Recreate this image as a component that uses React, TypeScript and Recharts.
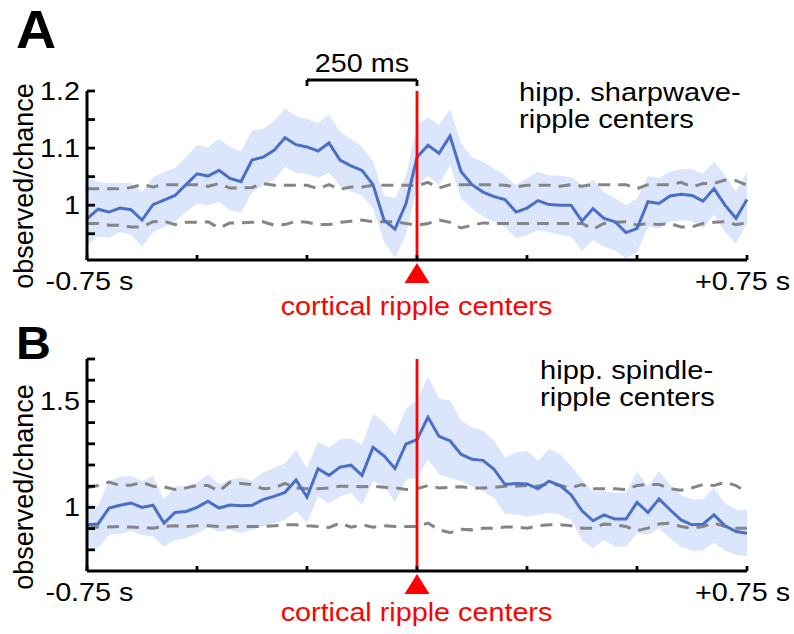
import React from 'react';
import { ComposedChart, Area, Line, XAxis, YAxis, ReferenceLine, ReferenceDot } from 'recharts';

const FONT = '"Liberation Sans", Arial, Helvetica, sans-serif';
const SX = 1.15;

// time bins (s)
const times = [
  -0.75, -0.725, -0.7, -0.675, -0.65, -0.625, -0.6, -0.575, -0.55, -0.525,
  -0.5, -0.475, -0.45, -0.425, -0.4, -0.375, -0.35, -0.325, -0.3, -0.275,
  -0.25, -0.225, -0.2, -0.175, -0.15, -0.125, -0.1, -0.075, -0.05, -0.025,
  0, 0.025, 0.05, 0.075, 0.1, 0.125, 0.15, 0.175, 0.2, 0.225,
  0.25, 0.275, 0.3, 0.325, 0.35, 0.375, 0.4, 0.425, 0.45, 0.475,
  0.5, 0.525, 0.55, 0.575, 0.6, 0.625, 0.65, 0.675, 0.7, 0.725, 0.75,
];
const xTicks = [-0.75, -0.5, -0.25, 0, 0.25, 0.5, 0.75];
const xTickLabels = ['-0.75 s', '', '', '', '', '', '+0.75 s'];

// Panel A: hipp. sharpwave-ripple centers
const meanA = [
  0.976, 0.993, 0.988, 0.995, 0.992, 0.974, 1.001, 1.009, 1.017, 1.036,
  1.055, 1.051, 1.061, 1.047, 1.041, 1.079, 1.084, 1.096, 1.118, 1.106,
  1.102, 1.095, 1.109, 1.079, 1.069, 1.061, 1.036, 0.974, 0.958, 1.003,
  1.084, 1.105, 1.091, 1.121, 1.059, 1.036, 1.023, 1.015, 1.010, 0.988,
  0.995, 1.008, 1.001, 1.000, 1.000, 0.972, 0.994, 0.977, 0.971, 0.952,
  0.959, 1.006, 1.003, 1.016, 1.019, 1.017, 1.007, 1.029, 1.000, 0.977, 1.010,
];
const upperA = [
  1.049, 1.041, 1.038, 1.039, 1.039, 1.023, 1.049, 1.058, 1.065, 1.084,
  1.105, 1.102, 1.116, 1.102, 1.094, 1.131, 1.134, 1.148, 1.169, 1.156,
  1.151, 1.144, 1.158, 1.128, 1.116, 1.102, 1.076, 1.017, 1.012, 1.052,
  1.140, 1.154, 1.140, 1.169, 1.108, 1.084, 1.076, 1.064, 1.052, 1.035,
  1.047, 1.058, 1.052, 1.052, 1.049, 1.035, 1.044, 1.023, 1.012, 1.000,
  1.012, 1.051, 1.047, 1.059, 1.063, 1.063, 1.055, 1.076, 1.052, 1.023, 1.058,
];
const lowerA = [
  0.930, 0.945, 0.943, 0.953, 0.949, 0.927, 0.953, 0.962, 0.971, 0.988,
  1.003, 1.000, 1.006, 0.991, 0.987, 1.022, 1.035, 1.044, 1.067, 1.057,
  1.055, 1.048, 1.057, 1.034, 1.024, 1.017, 0.994, 0.936, 0.908, 0.948,
  1.034, 1.052, 1.035, 1.070, 1.012, 0.994, 0.980, 0.971, 0.962, 0.942,
  0.948, 0.956, 0.953, 0.948, 0.945, 0.920, 0.939, 0.927, 0.921, 0.907,
  0.918, 0.962, 0.959, 0.971, 0.974, 0.972, 0.959, 0.983, 0.953, 0.933, 0.968,
];
const chanceHiA = [
  1.029, 1.029, 1.029, 1.029, 1.031, 1.036, 1.032, 1.036, 1.036, 1.036,
  1.036, 1.033, 1.038, 1.030, 1.030, 1.031, 1.038, 1.035, 1.035, 1.035,
  1.035, 1.029, 1.036, 1.028, 1.032, 1.032, 1.035, 1.035, 1.035, 1.035,
  1.034, 1.040, 1.030, 1.036, 1.036, 1.036, 1.036, 1.036, 1.035, 1.032,
  1.035, 1.035, 1.035, 1.033, 1.036, 1.033, 1.036, 1.036, 1.036, 1.036,
  1.029, 1.036, 1.036, 1.036, 1.040, 1.032, 1.038, 1.038, 1.044, 1.043, 1.035,
];
const chanceLoA = [
  0.968, 0.968, 0.965, 0.965, 0.962, 0.962, 0.971, 0.972, 0.966, 0.970,
  0.970, 0.971, 0.960, 0.969, 0.969, 0.970, 0.971, 0.965, 0.966, 0.972,
  0.970, 0.966, 0.966, 0.970, 0.972, 0.974, 0.971, 0.971, 0.971, 0.968,
  0.965, 0.968, 0.974, 0.970, 0.960, 0.965, 0.969, 0.968, 0.968, 0.968,
  0.968, 0.968, 0.968, 0.968, 0.968, 0.968, 0.958, 0.968, 0.970, 0.971,
  0.965, 0.968, 0.966, 0.968, 0.962, 0.962, 0.968, 0.970, 0.971, 0.966, 0.969,
];

// Panel B: hipp. spindle-ripple centers
const meanB = [
  0.918, 0.922, 0.997, 1.010, 1.021, 1.000, 1.010, 0.926, 0.976, 0.981,
  1.000, 1.029, 0.997, 1.011, 1.008, 1.010, 1.037, 1.052, 1.071, 1.129,
  1.049, 1.183, 1.151, 1.190, 1.199, 1.151, 1.283, 1.243, 1.183, 1.299,
  1.320, 1.426, 1.335, 1.314, 1.251, 1.227, 1.222, 1.180, 1.108, 1.113,
  1.111, 1.088, 1.124, 1.103, 1.060, 0.984, 0.937, 0.965, 0.945, 0.945,
  1.024, 0.976, 1.040, 0.989, 0.941, 0.918, 0.921, 0.965, 0.913, 0.886, 0.878,
];
const upperB = [
  1.021, 1.005, 1.124, 1.145, 1.148, 1.124, 1.148, 1.037, 1.100, 1.100,
  1.116, 1.156, 1.108, 1.132, 1.140, 1.127, 1.164, 1.187, 1.208, 1.271,
  1.187, 1.310, 1.283, 1.322, 1.326, 1.294, 1.441, 1.402, 1.341, 1.465,
  1.509, 1.616, 1.513, 1.505, 1.410, 1.378, 1.362, 1.314, 1.235, 1.259,
  1.267, 1.219, 1.275, 1.251, 1.195, 1.132, 1.076, 1.076, 1.069, 1.070,
  1.167, 1.100, 1.171, 1.108, 1.060, 1.037, 1.040, 1.092, 1.021, 0.989, 0.986,
];
const lowerB = [
  0.814, 0.807, 0.870, 0.875, 0.889, 0.870, 0.865, 0.814, 0.846, 0.854,
  0.878, 0.905, 0.886, 0.894, 0.878, 0.894, 0.910, 0.926, 0.941, 0.981,
  0.926, 1.052, 1.018, 1.052, 1.069, 1.013, 1.124, 1.100, 1.024, 1.132,
  1.140, 1.227, 1.156, 1.140, 1.124, 1.100, 1.076, 1.045, 0.970, 0.965,
  0.957, 0.965, 0.973, 0.965, 0.941, 0.846, 0.807, 0.846, 0.814, 0.815,
  0.878, 0.870, 0.902, 0.854, 0.814, 0.795, 0.798, 0.833, 0.798, 0.775, 0.770,
];
const chanceHiB = [
  1.092, 1.103, 1.119, 1.103, 1.105, 1.119, 1.100, 1.097, 1.084, 1.092,
  1.103, 1.103, 1.076, 1.119, 1.113, 1.108, 1.088, 1.092, 1.113, 1.092,
  1.088, 1.088, 1.092, 1.100, 1.100, 1.097, 1.100, 1.095, 1.092, 1.084,
  1.088, 1.103, 1.092, 1.095, 1.097, 1.092, 1.092, 1.095, 1.100, 1.100,
  1.103, 1.100, 1.113, 1.103, 1.092, 1.108, 1.088, 1.088, 1.088, 1.084,
  1.103, 1.108, 1.108, 1.088, 1.081, 1.092, 1.108, 1.103, 1.119, 1.103, 1.071,
];
const chanceLoB = [
  0.902, 0.907, 0.907, 0.910, 0.907, 0.905, 0.902, 0.910, 0.914, 0.910,
  0.914, 0.914, 0.910, 0.907, 0.910, 0.910, 0.910, 0.913, 0.918, 0.918,
  0.913, 0.910, 0.905, 0.926, 0.907, 0.918, 0.907, 0.913, 0.910, 0.910,
  0.910, 0.926, 0.894, 0.881, 0.897, 0.894, 0.902, 0.902, 0.907, 0.907,
  0.902, 0.913, 0.918, 0.918, 0.913, 0.902, 0.902, 0.922, 0.918, 0.910,
  0.890, 0.902, 0.922, 0.926, 0.910, 0.902, 0.910, 0.926, 0.910, 0.902, 0.902,
];

const yTicksA = [0.95, 1, 1.05, 1.1, 1.15, 1.2];
const yLabelsA = ['1', '1.1', '1.2'];
const yTicksB = [0.8, 0.9, 1, 1.1, 1.2, 1.3, 1.4, 1.5, 1.6, 1.7];
const yLabelsB = ['1', '1.5'];

const BLUE = '#4a6fc8';
const BAND = '#dbe5fb';
const GREY = '#858585';
const RED = '#ff0000';

function build(mean: number[], lo: number[], hi: number[], cLo: number[], cHi: number[]) {
  return times.map((t, i) => ({ t, band: [lo[i], hi[i]], mean: mean[i], cLo: cLo[i], cHi: cHi[i] }));
}
const dataA = build(meanA, lowerA, upperA, chanceLoA, chanceHiA);
const dataB = build(meanB, lowerB, upperB, chanceLoB, chanceHiB);

function SText(props: any) {
  const { x, y, anchor = 'start', size = 25, fill = '#000', weight = 'normal', sx = SX, children } = props;
  return (
    <text transform={`translate(${x},${y}) scale(${sx},1)`} textAnchor={anchor} fontSize={size}
      fill={fill} fontWeight={weight} fontFamily={FONT}>{children}</text>
  );
}

function makeYTick(labels: string[]) {
  return (p: any) => {
    const { x, y, payload } = p;
    const lab = labels.find((l) => Math.abs(parseFloat(l) - payload.value) < 1e-6);
    return (
      <g>
        <line x1={x} y1={y} x2={x + 8} y2={y} stroke="#000" strokeWidth={2.8} />
        {lab ? <SText x={x - 7} y={y + 9} anchor="end">{lab}</SText> : null}
      </g>
    );
  };
}

const XTick = (p: any) => {
  const { x, y, payload, index } = p;
  const lab = xTickLabels[xTicks.indexOf(payload.value)] || '';
  const dx = index === 0 ? 2.5 : -4.5;
  return (
    <g>
      <line x1={x} y1={y} x2={x} y2={y - 5} stroke="#000" strokeWidth={2.8} />
      {lab ? <SText x={x + dx} y={y + 30} anchor="middle">{lab}</SText> : null}
    </g>
  );
};

const Triangle = (p: any) => {
  const { cx, cy } = p;
  return <polygon points={`${cx},${cy + 3} ${cx - 12.5},${cy + 23} ${cx + 12.5},${cy + 23}`} fill={RED} />;
};

const ScaleLabel = (p: any) => {
  const vb = p.viewBox || {};
  return <SText x={vb.x + vb.width / 2} y={vb.y - 8} anchor="middle">250 ms</SText>;
};

function Panel(props: any) {
  const { data, domain, ticks, labels, height, margin, scaleBar } = props;
  return (
    <ComposedChart width={794} height={height} data={data} margin={margin}>
      <XAxis dataKey="t" type="number" domain={[-0.75, 0.75]} ticks={xTicks} interval={0}
        tickSize={0} tickMargin={0} height={30} tick={<XTick />}
        axisLine={{ stroke: '#000', strokeWidth: 3 }} tickLine={false} />
      <YAxis type="number" domain={domain} ticks={ticks} interval={0} width={60}
        tickSize={0} tickMargin={0} tick={makeYTick(labels)}
        axisLine={{ stroke: '#000', strokeWidth: 3 }} tickLine={false} allowDataOverflow />
      <Area dataKey="band" type="linear" stroke="none" fill={BAND} fillOpacity={1} isAnimationActive={false} />
      <Line dataKey="cHi" type="linear" stroke={GREY} strokeWidth={3} strokeDasharray="12 8" dot={false} isAnimationActive={false} />
      <Line dataKey="cLo" type="linear" stroke={GREY} strokeWidth={3} strokeDasharray="12 8" dot={false} isAnimationActive={false} />
      <Line dataKey="mean" type="linear" stroke={BLUE} strokeWidth={3} dot={false} isAnimationActive={false} />
      <ReferenceLine x={0} stroke={RED} strokeWidth={2.8} ifOverflow="visible" />
      <ReferenceDot x={0} y={domain[0]} r={0} ifOverflow="visible" shape={<Triangle />} />
      {scaleBar ? (
        <ReferenceLine segment={[{ x: -0.25, y: scaleBar[0] }, { x: 0, y: scaleBar[0] }]} stroke="#000" strokeWidth={2.8}
          ifOverflow="visible" label={<ScaleLabel />} />
      ) : null}
      {scaleBar ? (
        <ReferenceLine segment={[{ x: -0.25, y: scaleBar[0] }, { x: -0.25, y: scaleBar[1] }]} stroke="#000" strokeWidth={2.8}
          ifOverflow="visible" />
      ) : null}
      {scaleBar ? (
        <ReferenceLine segment={[{ x: 0, y: scaleBar[0] }, { x: 0, y: scaleBar[1] }]} stroke="#000" strokeWidth={2.8}
          ifOverflow="visible" />
      ) : null}
    </ComposedChart>
  );
}

export default function App() {
  return (
    <div style={{ position: 'absolute', left: 0, top: 0, width: 794, height: 634, background: '#fff', fontFamily: FONT }}>
      <div style={{ position: 'absolute', left: 0, top: 0 }}>
        <Panel data={dataA} domain={[0.904, 1.2]} ticks={yTicksA} labels={yLabelsA} height={320}
          margin={{ top: 91, right: 47, bottom: 30, left: 27 }} scaleBar={[1.2193, 1.2088]} />
      </div>
      <div style={{ position: 'absolute', left: 0, top: 320 }}>
        <Panel data={dataB} domain={[0.7, 1.7]} ticks={yTicksB} labels={yLabelsB} height={314}
          margin={{ top: 39, right: 47, bottom: 33, left: 27 }} />
      </div>
      <svg width={794} height={634} style={{ position: 'absolute', left: 0, top: 0, pointerEvents: 'none' }}>
        <SText x={16} y={48} size={53} weight="bold" sx={1.05}>A</SText>
        <SText x={16} y={359} size={46} weight="bold" sx={1.05}>B</SText>
        <text transform="translate(33,186) rotate(-90)" textAnchor="middle" fontSize={27} fontFamily={FONT}>observed/chance</text>
        <text transform="translate(33,487) rotate(-90)" textAnchor="middle" fontSize={27} fontFamily={FONT}>observed/chance</text>
        <SText x={519} y={101} size={26} sx={1.12}>hipp. sharpwave-</SText>
        <SText x={519} y={128} size={26} sx={1.12}>ripple centers</SText>
        <SText x={540} y={379} size={26} sx={1.12}>hipp. spindle-</SText>
        <SText x={540} y={406} size={26} sx={1.12}>ripple centers</SText>
        <SText x={416.5} y={315} anchor="middle" fill={RED}>cortical ripple centers</SText>
        <SText x={416.5} y={621} anchor="middle" fill={RED}>cortical ripple centers</SText>
      </svg>
    </div>
  );
}
